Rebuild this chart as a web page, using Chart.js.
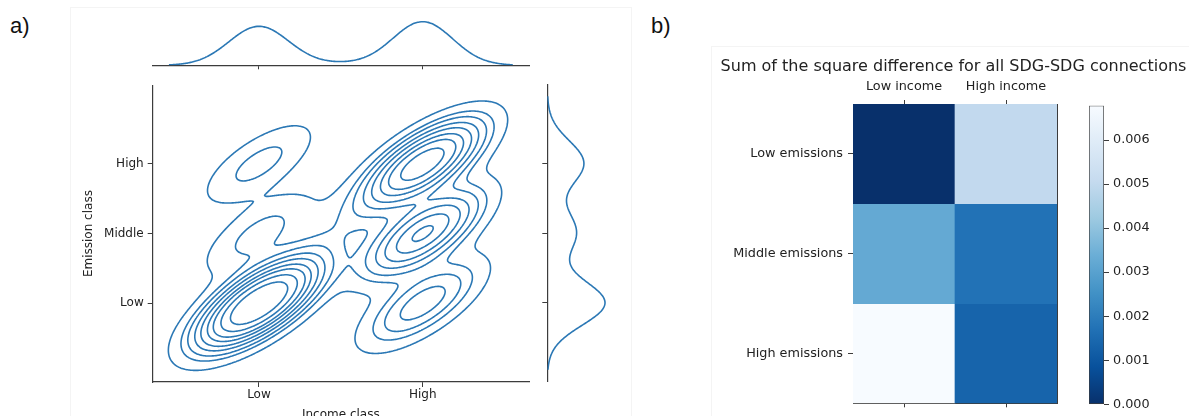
<!DOCTYPE html>
<html>
<head>
<meta charset="utf-8">
<script src="https://cdn.jsdelivr.net/npm/chart.js@4.4.1/dist/chart.umd.min.js"></script>
<style>
  body { margin: 0; width: 1189px; height: 416px; overflow: hidden; position: relative; background: #fff; }
  canvas { position: absolute; }
  .tag { position: absolute; font-family: "Liberation Sans", Arial, sans-serif; font-size: 22px; color: #111; }
  .panel { position: absolute; border: 1px solid #f4f4f4; }
</style>
</head>
<body>
<div class="panel" style="left:70px;top:7px;width:560px;height:420px;"></div>
<div class="panel" style="left:711px;top:46px;width:480px;height:380px;"></div>
<div class="tag" style="left:10px;top:13px;">a)</div>
<div class="tag" style="left:651px;top:13px;">b)</div>

<canvas id="margTop" width="395" height="75" style="left:140px;top:0px;"></canvas>
<canvas id="kdeMain" width="457" height="352" style="left:78px;top:74px;"></canvas>
<canvas id="margRight" width="80" height="318" style="left:540px;top:74px;"></canvas>
<canvas id="heat" width="507" height="366" style="left:700px;top:50px;"></canvas>
<canvas id="cbar" width="109" height="322" style="left:1080px;top:94px;"></canvas>

<script>
// ---- datos ----
// a) numero de paises por clase (ingreso x emision)
var incomeClass   = [0, 0, 0, 0.5, 1, 1, 1];   // 0 = Low, 1 = High
var emissionClass = [0, 1, 2, 1.1, 0, 1, 2];   // 0 = Low, 1 = Middle, 2 = High
var countryCount  = [55, 6, 6, 3, 13, 25, 37];
var kernelCorr    = 0.7;                       // inclinacion de las elipses
var incomeTicks   = ['Low', 'High'];
var emissionTicks = ['Low', 'Middle', 'High'];

// b) suma de diferencias al cuadrado
var incomeGroups   = ['Low income', 'High income'];
var emissionGroups = ['Low emissions', 'Middle emissions', 'High emissions'];
var lowEmissionsDiff    = [0.00000, 0.00500];
var middleEmissionsDiff = [0.00325, 0.00173];
var highEmissionsDiff   = [0.00678, 0.00136];
var colorbarTicks = [0, 0.001, 0.002, 0.003, 0.004, 0.005, 0.006];

var lineColor = '#2b78b5';
var axisColor = '#3c3c3c';
Chart.defaults.font.family = 'DejaVu Sans';
Chart.defaults.color = '#222';
Chart.defaults.animation = false;

// ---- kde (Scott, como seaborn) ----
function sum(a){ return a.reduce(function(s, v){ return s + v; }, 0); }
function linspace(a, b, n){ var out = []; for (var i = 0; i < n; i++) out.push(a + (b - a) * i / (n - 1)); return out; }
var nObs = sum(countryCount);
function wMean(v){ var s = 0; for (var i = 0; i < v.length; i++) s += v[i] * countryCount[i]; return s / nObs; }
function wVar(v){
  var m = wMean(v), s = 0;
  for (var i = 0; i < v.length; i++) s += countryCount[i] * (v[i] - m) * (v[i] - m);
  return s / (nObs - 1);
}

function kde1d(vals){
  var bw = Math.sqrt(wVar(vals)) * Math.pow(nObs, -1 / 5);
  var grid = linspace(Math.min.apply(null, vals) - 3 * bw, Math.max.apply(null, vals) + 3 * bw, 200);
  return grid.map(function(g){
    var d = 0;
    for (var i = 0; i < vals.length; i++) d += countryCount[i] * Math.exp(-0.5 * Math.pow((g - vals[i]) / bw, 2));
    return { v: g, d: d / (nObs * bw * Math.sqrt(2 * Math.PI)) };
  });
}

var f2 = Math.pow(nObs, -1 / 6);
var bwX = Math.sqrt(wVar(incomeClass)) * f2, bwY = Math.sqrt(wVar(emissionClass)) * f2;
var kxx = bwX * bwX, kyy = bwY * bwY, kxy = kernelCorr * bwX * bwY;
var det = kxx * kyy - kxy * kxy;
var gx = linspace(Math.min.apply(null, incomeClass) - 3 * bwX, Math.max.apply(null, incomeClass) + 3 * bwX, 200);
var gy = linspace(Math.min.apply(null, emissionClass) - 3 * bwY, Math.max.apply(null, emissionClass) + 3 * bwY, 200);
var dens = gy.map(function(y){
  return gx.map(function(x){
    var d = 0;
    for (var i = 0; i < countryCount.length; i++) {
      var dx = x - incomeClass[i], dy = y - emissionClass[i];
      d += countryCount[i] * Math.exp(-0.5 * (dx * dx * kyy - 2 * dx * dy * kxy + dy * dy * kxx) / det);
    }
    return d / (nObs * 2 * Math.PI * Math.sqrt(det));
  });
});

// niveles por proporcion de masa (thresh 0.05, 10 niveles)
var flat = [].concat.apply([], dens).sort(function(a, b){ return b - a; });
var total = sum(flat), cum = [], acc = 0;
flat.forEach(function(v){ acc += v; cum.push(acc / total); });
var levels = linspace(0.05, 1, 10).map(function(p){
  var t = 1 - p, idx = 0;
  while (idx < cum.length && cum[idx] < t) idx++;
  return flat[Math.min(idx, flat.length - 1)];
}).filter(function(l){ return l < flat[0]; });

// marching squares + unir segmentos
function contourLines(level){
  var pts = {}, segs = [];
  function ep(key, x0, y0, a, x1, y1, b){
    if (!pts[key]) { var t = (level - a) / (b - a); pts[key] = { x: x0 + t * (x1 - x0), y: y0 + t * (y1 - y0) }; }
    return key;
  }
  for (var j = 0; j < gy.length - 1; j++) {
    for (var i = 0; i < gx.length - 1; i++) {
      var v0 = dens[j][i], v1 = dens[j][i + 1], v2 = dens[j + 1][i + 1], v3 = dens[j + 1][i];
      var c = (v0 >= level ? 1 : 0) | (v1 >= level ? 2 : 0) | (v2 >= level ? 4 : 0) | (v3 >= level ? 8 : 0);
      if (c === 0 || c === 15) continue;
      var B = ep('h' + i + '_' + j, gx[i], gy[j], v0, gx[i + 1], gy[j], v1);
      var R = ep('v' + (i + 1) + '_' + j, gx[i + 1], gy[j], v1, gx[i + 1], gy[j + 1], v2);
      var T = ep('h' + i + '_' + (j + 1), gx[i], gy[j + 1], v3, gx[i + 1], gy[j + 1], v2);
      var L = ep('v' + i + '_' + j, gx[i], gy[j], v0, gx[i], gy[j + 1], v3);
      var mid = (v0 + v1 + v2 + v3) / 4 >= level;
      var table = {
        1: [[L, B]], 2: [[B, R]], 3: [[L, R]], 4: [[R, T]],
        5: mid ? [[B, R], [L, T]] : [[L, B], [R, T]],
        6: [[B, T]], 7: [[L, T]], 8: [[L, T]], 9: [[B, T]],
        10: mid ? [[L, B], [R, T]] : [[B, R], [L, T]],
        11: [[R, T]], 12: [[L, R]], 13: [[B, R]], 14: [[L, B]]
      };
      table[c].forEach(function(s){ segs.push(s); });
    }
  }
  var byKey = {};
  segs.forEach(function(s, k){
    (byKey[s[0]] = byKey[s[0]] || []).push(k);
    (byKey[s[1]] = byKey[s[1]] || []).push(k);
  });
  var used = [], lines = [];
  function grow(line){
    while (true) {
      var last = line[line.length - 1], next = -1;
      (byKey[last] || []).forEach(function(k){ if (next < 0 && !used[k]) next = k; });
      if (next < 0) break;
      used[next] = true;
      line.push(segs[next][0] === last ? segs[next][1] : segs[next][0]);
    }
  }
  for (var k = 0; k < segs.length; k++) {
    if (used[k]) continue;
    used[k] = true;
    var line = [segs[k][0], segs[k][1]];
    grow(line); line.reverse(); grow(line);
    lines.push(line.map(function(key){ return pts[key]; }));
  }
  return lines;
}

// tension > 0 para que chart.js no use el "fast path" (dientes en trazos verticales)
var curveStyle = { showLine: true, pointRadius: 0, borderColor: lineColor, borderWidth: 1.6, fill: false, tension: 0.1 };
var contourSets = [];
levels.forEach(function(l){
  contourLines(l).forEach(function(line){
    contourSets.push(Object.assign({ data: line }, curveStyle));
  });
});

function fixW(w){ return function(s){ s.width = w; }; }
function fixH(h){ return function(s){ s.height = h; }; }
var tickGrid = { drawOnChartArea: false, drawTicks: true, tickLength: 5, color: axisColor };

// ---- a) contornos ----
new Chart(document.getElementById('kdeMain'), {
  type: 'scatter',
  data: { datasets: contourSets },
  options: {
    responsive: false,
    layout: { padding: { top: 10, right: 6 } },
    plugins: { legend: { display: false }, tooltip: { enabled: false } },
    scales: {
      x: {
        min: gx[0], max: gx[gx.length - 1],
        afterBuildTicks: function(s){ s.ticks = incomeTicks.map(function(t, i){ return { value: i }; }); },
        afterFit: fixH(44),
        ticks: { padding: 1, font: { size: 12 }, callback: function(v){ return incomeTicks[v]; } },
        grid: tickGrid,
        border: { color: axisColor, width: 1.2 },
        title: { display: true, text: 'Income class', font: { size: 12 } }
      },
      y: {
        min: gy[0], max: gy[gy.length - 1],
        afterBuildTicks: function(s){ s.ticks = emissionTicks.map(function(t, i){ return { value: i }; }); },
        afterFit: fixW(74.7),
        ticks: { padding: 4, font: { size: 12 }, callback: function(v){ return emissionTicks[v]; } },
        grid: tickGrid,
        border: { color: axisColor, width: 1.2 },
        title: { display: true, text: 'Emission class', font: { size: 12 } }
      }
    }
  }
});

// marginal de ingreso (arriba)
var margX = kde1d(incomeClass);
var maxX = Math.max.apply(null, margX.map(function(p){ return p.d; }));
new Chart(document.getElementById('margTop'), {
  type: 'scatter',
  data: { datasets: [Object.assign({ data: margX.map(function(p){ return { x: p.v, y: p.d }; }) }, curveStyle)] },
  options: {
    responsive: false,
    layout: { padding: { top: 19.5, left: 12.7, right: 6 } },
    plugins: { legend: { display: false }, tooltip: { enabled: false } },
    scales: {
      x: {
        min: gx[0], max: gx[gx.length - 1],
        afterBuildTicks: function(s){ s.ticks = [{ value: 0 }, { value: 1 }]; },
        afterFit: fixH(9.7),
        ticks: { callback: function(){ return ''; } },
        grid: { drawOnChartArea: false, tickLength: 4, color: axisColor },
        border: { color: axisColor, width: 1.2 }
      },
      y: { display: false, min: 0, max: maxX * 1.05 }
    }
  }
});

// marginal de emision (derecha)
var margY = kde1d(emissionClass);
var maxY = Math.max.apply(null, margY.map(function(p){ return p.d; }));
new Chart(document.getElementById('margRight'), {
  type: 'scatter',
  data: { datasets: [Object.assign({ data: margY.map(function(p){ return { x: p.d, y: p.v }; }) }, curveStyle)] },
  options: {
    responsive: false,
    layout: { padding: { top: 10, left: 2.3, right: 12.1, bottom: 10 } },
    plugins: { legend: { display: false }, tooltip: { enabled: false } },
    scales: {
      x: { display: false, min: 0, max: maxY * 1.05 },
      y: {
        min: gy[0], max: gy[gy.length - 1],
        afterBuildTicks: function(s){ s.ticks = [{ value: 0 }, { value: 1 }, { value: 2 }]; },
        afterFit: fixW(5),
        ticks: { callback: function(){ return ''; } },
        grid: { drawOnChartArea: false, tickLength: 5, color: axisColor },
        border: { color: axisColor, width: 1.2 }
      }
    }
  }
});

// ---- b) mapa de calor ----
var bluesStops = ['#f7fbff', '#deebf7', '#c6dbef', '#9ecae1', '#6baed6', '#4292c6', '#2171b5', '#08519c', '#08306b'];
var vmax = Math.max.apply(null, lowEmissionsDiff.concat(middleEmissionsDiff, highEmissionsDiff));
function hexRgb(h){ return [parseInt(h.substr(1, 2), 16), parseInt(h.substr(3, 2), 16), parseInt(h.substr(5, 2), 16)]; }
function bluesR(f){
  var t = (1 - Math.max(0, Math.min(1, f))) * 8, i = Math.min(7, Math.floor(t)), u = t - i;
  var a = hexRgb(bluesStops[i]), b = hexRgb(bluesStops[i + 1]);
  return 'rgb(' + a.map(function(c, k){ return Math.round(c + (b[k] - c) * u); }).join(',') + ')';
}
var heatRows = [lowEmissionsDiff, middleEmissionsDiff, highEmissionsDiff];

new Chart(document.getElementById('heat'), {
  type: 'bar',
  data: {
    labels: incomeGroups,
    datasets: heatRows.map(function(row, r){
      return {
        label: emissionGroups[r],
        data: row.map(function(){ return [r - 0.5, r + 0.5]; }),
        backgroundColor: row.map(function(v){ return bluesR(v / vmax); }),
        borderWidth: 0, grouped: false, barPercentage: 1, categoryPercentage: 1
      };
    })
  },
  options: {
    responsive: false,
    plugins: {
      legend: { display: false }, tooltip: { enabled: false },
      title: { display: true, text: 'Sum of the square difference for all SDG-SDG connections',
               font: { size: 16, weight: 'normal' }, color: '#222', padding: { top: 7.7, bottom: 0 } }
    },
    scales: {
      x: {
        position: 'top', afterFit: fixH(27.1),
        ticks: { padding: 6, font: { size: 12.8 } },
        grid: { offset: false, drawOnChartArea: false, tickLength: 4, color: axisColor },
        border: { color: axisColor, width: 1 }
      },
      xb: {
        type: 'category', position: 'bottom', afterFit: fixH(6),
        ticks: { callback: function(){ return ''; } },
        grid: { offset: false, drawOnChartArea: false, tickLength: 4, color: axisColor },
        border: { color: axisColor, width: 1 }
      },
      y: {
        min: -0.5, max: 2.5, reverse: true, afterFit: fixW(153),
        afterBuildTicks: function(s){ s.ticks = emissionGroups.map(function(g, i){ return { value: i }; }); },
        ticks: { padding: 5, font: { size: 12.8 }, callback: function(v){ return emissionGroups[v]; } },
        grid: { drawOnChartArea: false, tickLength: 5, color: axisColor },
        border: { color: axisColor, width: 1 }
      },
      yr: {
        type: 'linear', position: 'right', min: 0, max: 1, afterFit: fixW(150),
        ticks: { display: false }, grid: { display: false },
        border: { display: true, color: axisColor, width: 1 }
      }
    }
  }
});

// barra de color
new Chart(document.getElementById('cbar'), {
  type: 'bar',
  data: {
    labels: [''],
    datasets: [{
      data: [[0, vmax]],
      backgroundColor: function(ctx){
        var area = ctx.chart.chartArea;
        if (!area) return bluesStops[4];
        var g = ctx.chart.ctx.createLinearGradient(0, area.bottom, 0, area.top);
        bluesStops.slice().reverse().forEach(function(c, i){ g.addColorStop(i / 8, c); });
        return g;
      },
      borderColor: axisColor, borderWidth: 1, borderSkipped: false,
      barPercentage: 1, categoryPercentage: 1
    }]
  },
  options: {
    responsive: false,
    layout: { padding: { top: 10, left: 9, bottom: 6 } },
    plugins: { legend: { display: false }, tooltip: { enabled: false } },
    scales: {
      x: { display: false },
      y: {
        position: 'right', min: 0, max: vmax, afterFit: fixW(85),
        afterBuildTicks: function(s){ s.ticks = colorbarTicks.map(function(v){ return { value: v }; }); },
        ticks: { padding: 4, font: { size: 12.8 }, callback: function(v){ return v.toFixed(3); } },
        grid: { drawOnChartArea: false, tickLength: 5, color: axisColor },
        border: { display: false }
      }
    }
  }
});
</script>
</body>
</html>
